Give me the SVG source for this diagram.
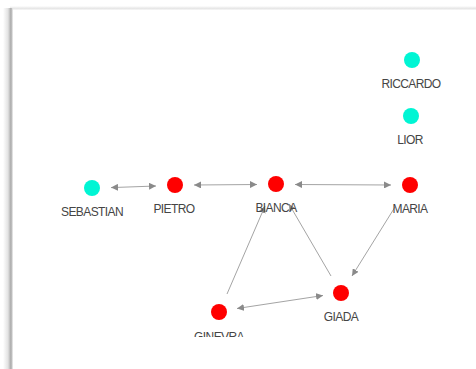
<svg xmlns="http://www.w3.org/2000/svg" width="476" height="369" viewBox="0 0 476 369">
<defs>
<linearGradient id="lsh" x1="0" y1="0" x2="1" y2="0">
<stop offset="0" stop-color="#ffffff"/>
<stop offset="0.5" stop-color="#e2e2e2"/>
<stop offset="0.8" stop-color="#a8a8a8"/>
<stop offset="1" stop-color="#f2f2f2"/>
</linearGradient>
<linearGradient id="tsh" x1="0" y1="0" x2="0" y2="1">
<stop offset="0" stop-color="#ffffff"/>
<stop offset="0.6" stop-color="#e6e6e6"/>
<stop offset="1" stop-color="#f8f8f8"/>
</linearGradient>
<marker id="ah" viewBox="0 0 10 10" refX="10" refY="5" markerWidth="7" markerHeight="7" markerUnits="userSpaceOnUse" orient="auto-start-reverse">
<path d="M0,0 L10,5 L0,10 z" fill="#8a8a8a"/>
</marker>
<style>
.e{stroke:#a4a4a4;stroke-width:1;fill:none}
.r{fill:#ff0000}
.c{fill:#00f5d4}
.t{font-family:"Liberation Sans",Arial,sans-serif;font-size:12px;fill:#454545;text-anchor:middle;letter-spacing:-0.6px}
</style>
<clipPath id="cp"><rect x="0" y="0" width="476" height="337"/></clipPath>
</defs>
<rect width="476" height="369" fill="#ffffff"/>
<rect x="10" y="6" width="466" height="4" fill="url(#tsh)"/>
<rect x="3" y="8" width="10" height="361" fill="url(#lsh)"/>
<g id="connectors">
<line class="e" x1="111" y1="187.6" x2="156" y2="186" marker-start="url(#ah)" marker-end="url(#ah)"/>
<line class="e" x1="194" y1="185" x2="257" y2="184.5" marker-start="url(#ah)" marker-end="url(#ah)"/>
<line class="e" x1="295" y1="184.5" x2="391" y2="185" marker-start="url(#ah)" marker-end="url(#ah)"/>
<line class="e" x1="227" y1="294" x2="265" y2="206" marker-end="url(#ah)"/>
<line class="e" x1="331" y1="276" x2="289" y2="204" marker-end="url(#ah)"/>
<line class="e" x1="395" y1="207" x2="352" y2="276" marker-end="url(#ah)"/>
<line class="e" x1="237" y1="308.5" x2="323" y2="295.5" marker-start="url(#ah)" marker-end="url(#ah)"/>
</g>
<g id="RICCARDO"><circle class="c" cx="412" cy="60" r="8"/><text class="t" x="411" y="88">RICCARDO</text></g>
<g id="LIOR"><circle class="c" cx="411" cy="116" r="8"/><text class="t" x="410" y="144">LIOR</text></g>
<g id="SEBASTIAN"><circle class="c" cx="92" cy="188" r="8"/><text class="t" x="92" y="216">SEBASTIAN</text></g>
<g id="PIETRO"><circle class="r" cx="175" cy="185" r="8"/><text class="t" x="174" y="213">PIETRO</text></g>
<g id="BIANCA"><circle class="r" cx="276" cy="184" r="8"/><text class="t" x="276" y="212">BIANCA</text></g>
<g id="MARIA"><circle class="r" cx="410" cy="185" r="8"/><text class="t" x="410" y="213">MARIA</text></g>
<g id="GIADA"><circle class="r" cx="341" cy="293" r="8"/><text class="t" x="341" y="321">GIADA</text></g>
<g id="GINEVRA" clip-path="url(#cp)"><circle class="r" cx="219" cy="312" r="8"/><text class="t" x="219" y="341">GINEVRA</text></g>
</svg>
